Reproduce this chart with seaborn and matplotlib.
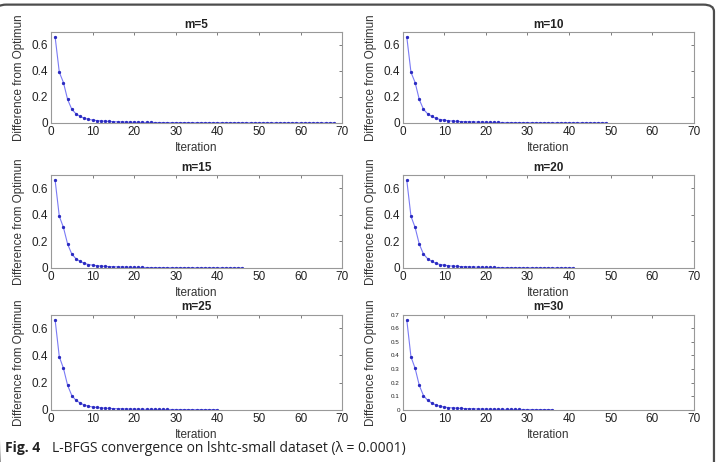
import pandas as pd
import matplotlib.pyplot as plt
import seaborn as sns
from matplotlib.patches import FancyBboxPatch

# Difference from optimum per iteration
m5 = [0.66, 0.39, 0.31, 0.18, 0.105, 0.07, 0.05, 0.036, 0.027, 0.022,
      0.018, 0.015, 0.013, 0.011, 0.009, 0.008, 0.007, 0.006, 0.005, 0.0045,
      0.004, 0.0037, 0.0034, 0.0031, 0.0029, 0.0027, 0.0025, 0.0023, 0.0022, 0.0021,
      0.002, 0.0019, 0.0018, 0.0018, 0.0017, 0.0016, 0.0016, 0.0015, 0.0015, 0.0014,
      0.0014, 0.0013, 0.0013, 0.0012, 0.0012, 0.0012, 0.0011, 0.0011, 0.0011, 0.001,
      0.001, 0.001, 0.0009, 0.0009, 0.0009, 0.0009, 0.0008, 0.0008, 0.0008, 0.0008,
      0.0007, 0.0007, 0.0007, 0.0007, 0.0006, 0.0006, 0.0006, 0.0006]
m10 = [0.66, 0.39, 0.31, 0.18, 0.105, 0.07, 0.05, 0.035, 0.026, 0.021,
       0.017, 0.014, 0.012, 0.01, 0.009, 0.008, 0.007, 0.006, 0.005, 0.0045,
       0.004, 0.0036, 0.0033, 0.003, 0.0028, 0.0026, 0.0024, 0.0022, 0.0021, 0.002,
       0.0019, 0.0018, 0.0017, 0.0016, 0.0015, 0.0014, 0.0013, 0.0013, 0.0012, 0.0012,
       0.0011, 0.0011, 0.001, 0.001, 0.0009, 0.0009, 0.0008, 0.0008, 0.0008]
m15 = [0.66, 0.39, 0.305, 0.18, 0.105, 0.07, 0.05, 0.035, 0.026, 0.021,
       0.017, 0.014, 0.012, 0.01, 0.009, 0.008, 0.007, 0.006, 0.005, 0.0045,
       0.004, 0.0036, 0.0033, 0.003, 0.0028, 0.0026, 0.0024, 0.0022, 0.0021, 0.002,
       0.0019, 0.0018, 0.0017, 0.0016, 0.0015, 0.0014, 0.0013, 0.0013, 0.0012, 0.0012,
       0.0011, 0.0011, 0.001, 0.001, 0.0009, 0.0009]
m20 = [0.66, 0.39, 0.305, 0.18, 0.105, 0.07, 0.05, 0.035, 0.026, 0.021,
       0.017, 0.014, 0.012, 0.01, 0.009, 0.008, 0.007, 0.006, 0.005, 0.0045,
       0.004, 0.0036, 0.0033, 0.003, 0.0028, 0.0026, 0.0024, 0.0022, 0.0021, 0.002,
       0.0019, 0.0018, 0.0017, 0.0016, 0.0015, 0.0014, 0.0013, 0.0013, 0.0012, 0.0012,
       0.0011]
m25 = [0.66, 0.39, 0.305, 0.18, 0.105, 0.07, 0.05, 0.035, 0.026, 0.021,
       0.017, 0.014, 0.012, 0.01, 0.009, 0.008, 0.007, 0.006, 0.005, 0.0045,
       0.004, 0.0036, 0.0033, 0.003, 0.0028, 0.0026, 0.0024, 0.0022, 0.0021, 0.002,
       0.0019, 0.0018, 0.0017, 0.0016, 0.0015, 0.0014, 0.0013, 0.0013, 0.0012, 0.0012]
m30 = [0.66, 0.39, 0.305, 0.18, 0.105, 0.07, 0.05, 0.035, 0.026, 0.02,
       0.016, 0.014, 0.012, 0.01, 0.009, 0.008, 0.007, 0.006, 0.005, 0.0045,
       0.004, 0.0036, 0.0033, 0.003, 0.0028, 0.0026, 0.0024, 0.0022, 0.0021, 0.002,
       0.0019, 0.0018, 0.0017, 0.0016, 0.0015, 0.0014]

series = {'m=5': m5, 'm=10': m10, 'm=15': m15,
          'm=20': m20, 'm=25': m25, 'm=30': m30}

frames = []
for name, vals in series.items():
    frames.append(pd.DataFrame({'m': name,
                                'Iteration': range(1, len(vals) + 1),
                                'diff': vals}))
df = pd.concat(frames, ignore_index=True)

sns.set_style('white')
plt.rcParams['font.family'] = ['Liberation Sans', 'DejaVu Sans']

fig = plt.figure(figsize=(7.19, 4.62), dpi=100)

# panel rectangles in figure fractions: left/right column, three rows
cols = [0.0709, 0.5600]
rows = [(0.734, 0.197), (0.420, 0.201), (0.113, 0.206)]
names = list(series.keys())

for i, name in enumerate(names):
    r, c = divmod(i, 2)
    bottom, height = rows[r]
    ax = fig.add_axes([cols[c], bottom, 0.405, height])
    sub = df[df['m'] == name]
    sns.lineplot(data=sub, x='Iteration', y='diff', ax=ax, color='#7a7af5',
                 linewidth=0.8, marker='o', markersize=1.6,
                 markerfacecolor='#2a2ac0', markeredgecolor='#2a2ac0')
    ax.set_xlim(0, 70)
    ax.set_ylim(0, 0.7)
    ax.set_xticks(range(0, 71, 10))
    if name == 'm=30':
        ax.set_yticks([0, 0.1, 0.2, 0.3, 0.4, 0.5, 0.6, 0.7])
        ax.set_yticklabels(['0', '0.1', '0.2', '0.3', '0.4', '0.5', '0.6', '0.7'],
                           fontsize=4.5)
    else:
        ax.set_yticks([0, 0.2, 0.4, 0.6])
        ax.set_yticklabels(['0', '0.2', '0.4', '0.6'], fontsize=8.5)
    ax.tick_params(axis='x', labelsize=8.5)
    ax.tick_params(direction='in', length=2.5, width=0.6, color='#666666',
                   top=True, right=True, pad=2, labelcolor='#222222')
    for sp in ax.spines.values():
        sp.set_color('#999999')
        sp.set_linewidth(0.8)
    ax.set_title(name, fontsize=8.5, fontweight='bold', pad=3, color='#222222')
    ax.set_xlabel('Iteration', fontsize=8.5, labelpad=3, color='#333333')
    ax.set_ylabel('Difference from Optimun', fontsize=8.4, color='#333333')
    ax.yaxis.set_label_coords(-0.088, 0.5)

# rounded frame of the figure panel
frame = FancyBboxPatch((-0.006, -0.2), 0.999, 1.19,
                       boxstyle='round,pad=0,rounding_size=0.015',
                       transform=fig.transFigure, fill=False,
                       edgecolor='#4d4d4d', linewidth=1.6)
fig.patches.append(frame)

fig.text(0.007, 0.022, 'Fig. 4', fontsize=10, fontweight='bold',
         family=['Open Sans', 'DejaVu Sans'], color='#222222')
fig.text(0.073, 0.022, 'L-BFGS convergence on lshtc-small dataset (\u03bb = 0.0001)',
         fontsize=10, family=['Open Sans', 'DejaVu Sans'], color='#222222')

fig.savefig('out.png', dpi=100)
